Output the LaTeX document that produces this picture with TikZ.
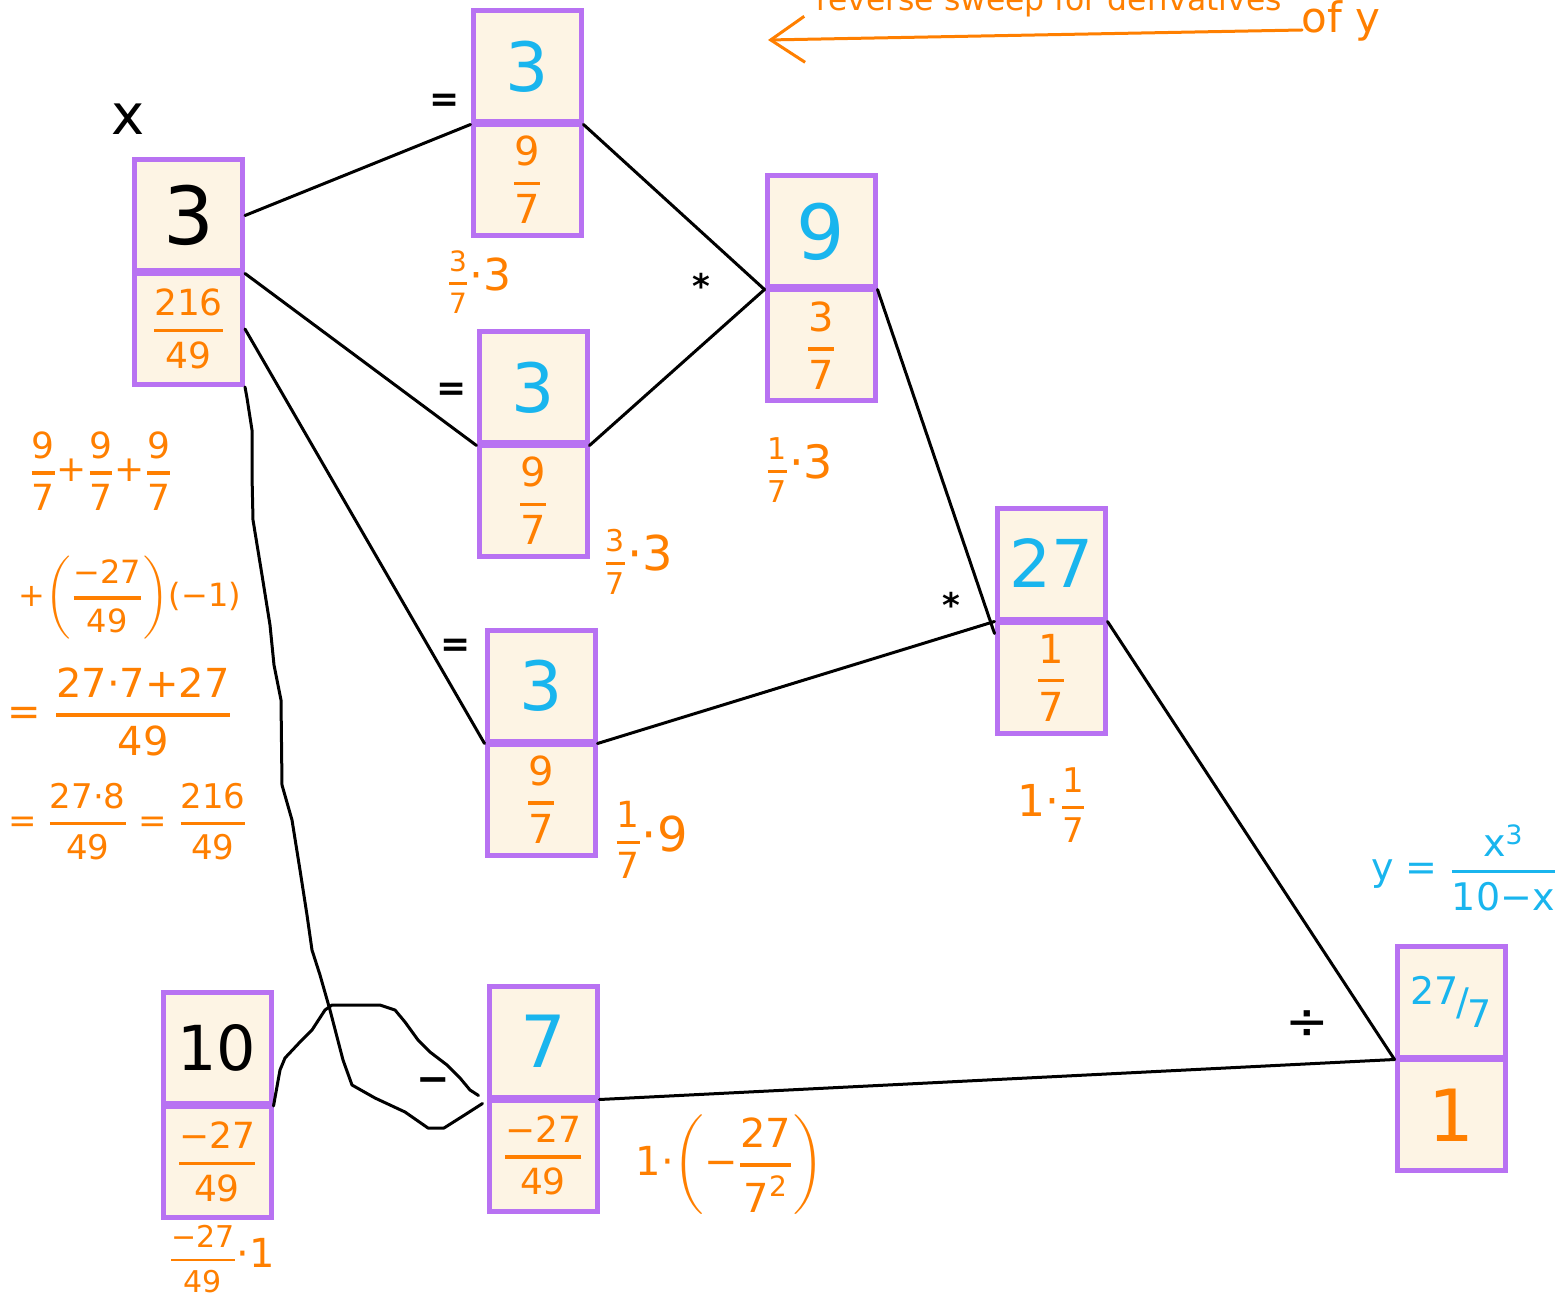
\documentclass[tikz,border=0pt]{standalone}
\usepackage{fontspec}
\usepackage{amsmath}
\setmainfont{DejaVu Sans}
\usetikzlibrary{arrows.meta}
\definecolor{boxpurple}{HTML}{B872F2}
\definecolor{boxfill}{HTML}{FDF4E4}
\definecolor{inkorange}{HTML}{FF7F00}
\definecolor{inksky}{HTML}{19B5EE}
\newcommand\myfs[1]{\fontsize{#1}{#1}\selectfont}
\newcommand\fr[3][1.6pt]{\ensuremath{\genfrac{}{}{#1}{0}{\text{#2}}{\text{#3}}}}
\begin{document}
\begin{tikzpicture}[x=0.5pt,y=-0.5pt,
  cell/.style={draw=boxpurple, line width=2.5pt, fill=boxfill, minimum width=54pt, minimum height=55.5pt, inner sep=0pt},
  wire/.style={line width=1.5pt, black, line cap=round, line join=round},
  ink/.style={text=inkorange, inner sep=0pt},
  sky/.style={text=inksky, inner sep=0pt},
  blk/.style={text=black, inner sep=0pt}]
\useasboundingbox (0,0) rectangle (1567,1304);

% boxes
\node[cell, blk, font=\myfs{40}] (x-v) at (188.5,215.5) {3};
\node[cell, ink, font=\myfs{18}] (x-d) at (188.5,329) {\fr{216}{49}};
\node[cell, sky, font=\myfs{34}] (t-v) at (527,66.5) {3};
\node[cell, ink, font=\myfs{20}] (t-d) at (527,180) {\fr{9}{7}};
\node[cell, sky, font=\myfs{34}] (m-v) at (533,387.5) {3};
\node[cell, ink, font=\myfs{20}] (m-d) at (533,501) {\fr{9}{7}};
\node[cell, sky, font=\myfs{34}] (l-v) at (541,685.5) {3};
\node[cell, ink, font=\myfs{20}] (l-d) at (541,799.5) {\fr{9}{7}};
\node[cell, sky, font=\myfs{38}] (n-v) at (821,231.5) {9};
\node[cell, ink, font=\myfs{20}] (n-d) at (821,345.5) {\fr{3}{7}};
\node[cell, sky, font=\myfs{33}] (s-v) at (1051,563.5) {27};
\node[cell, ink, font=\myfs{20}] (s-d) at (1051,677.5) {\fr{1}{7}};
\node[cell, sky, font=\myfs{19}] (f-v) at (1451,1001.5) {\raisebox{.3em}{27}\kern-.05em/\kern-.05em\raisebox{-.3em}{7}};
\node[cell, ink, font=\myfs{36}] (f-d) at (1451,1115) {1};
\node[cell, blk, font=\myfs{31}] (te-v) at (217,1048) {10};
\node[cell, ink, font=\myfs{18}] (te-d) at (217,1162) {\fr{−27}{49}};
\node[cell, sky, font=\myfs{36}] (se-v) at (543,1041.5) {7};
\node[cell, ink, font=\myfs{18}] (se-d) at (543,1155.5) {\fr{−27}{49}};

% connectors
\draw[wire] (x-v.east) -- (t-v.south west);
\draw[wire] (x-v.south east) -- (m-v.south west);
\draw[wire] (x-d.east) -- (l-v.south west);
\draw[wire] (t-v.south east) -- (n-v.south west);
\draw[wire] (m-v.south east) -- (n-v.south west);
\draw[wire] (n-v.south east) -- ([yshift=-6pt]s-v.south west);
\draw[wire] (l-v.south east) -- (s-v.south west);
\draw[wire] (s-v.south east) -- (f-v.south west);
\draw[wire] (se-v.south east) -- (f-v.south west);
\draw[wire] (x-d.south east) -- (247,398) -- (252,430) -- (252,475) -- (253,520) -- (262,575) -- (270,625) -- (274,665) -- (281,700) -- (282,785) -- (292,820) -- (300,870) -- (307,915) -- (312,950) -- (320,975) -- (330,1010) -- (343,1060) -- (352,1085) -- (375,1098) -- (405,1112) -- (428,1128) -- (444,1128) -- (463,1116) -- ([shift={(-2pt,-2pt)}]se-v.south west);
\draw[wire] (te-v.south east) -- (280,1070) -- (285,1058) -- (300,1042) -- (312,1030) -- (325,1010) -- (332,1005) -- (380,1005) -- (395,1010) -- (405,1022) -- (418,1040) -- (430,1052) -- (447,1065) -- (460,1078) -- (470,1090) -- ([shift={(-4pt,2pt)}]se-v.south west);

% operator labels
\node[blk, font=\myfs{28}] (lx) at (128,119) {x};
\node[blk, font=\bfseries\myfs{18}] (eq1) at (445,103) {=};
\node[blk, font=\bfseries\myfs{18}] (eq2) at (452,392) {=};
\node[blk, font=\bfseries\myfs{18}] (eq3) at (456,648) {=};
\node[blk, font=\bfseries\myfs{17}] (st1) at (701,286) {*};
\node[blk, font=\bfseries\myfs{17}] (st2) at (951,605) {*};
\node[blk, font=\bfseries\myfs{20}] (mn) at (433,1085) {−};
\node[blk, font=\myfs{26}] (dv) at (1307,1025) {÷};

% orange annotations
\node[ink] (a1) at (479,282) {{\myfs{14}\fr[1.3pt]{3}{7}}{\myfs{22}·3}};
\node[ink] (a2) at (638,562) {{\myfs{15}\fr[1.3pt]{3}{7}}{\myfs{24}·3}};
\node[ink] (a3) at (651,840) {{\myfs{18}\fr[1.4pt]{1}{7}}{\myfs{24}·9}};
\node[ink] (a4) at (799,470) {{\myfs{15}\fr[1.3pt]{1}{7}}{\myfs{23}·3}};
\node[ink] (a5) at (1052,805) {{\myfs{22}1·}{\myfs{17}\fr[1.4pt]{1}{7}}};
\node[ink] (a6) at (222,1259) {{\myfs{15}\fr[1.4pt]{−27}{49}}{\myfs{20}·1}};
\node[ink, font=\myfs{20}] (a7) at (730,1165) {1·$\left(\text{−}\fr{27}{7\textsuperscript{2}}\right)$};

\node[ink, font=\myfs{18}] (e1) at (101,471) {\fr{9}{7}+\fr{9}{7}+\fr{9}{7}};
\node[ink, font=\myfs{16}] (e2) at (130,598) {+$\left(\fr{−27}{49}\right)$(−1)};
\node[ink, font=\myfs{20}] (e3) at (120,712) {= \fr{27·7+27}{49}};
\node[ink, font=\myfs{17}] (e4) at (128,822) {= \fr{27·8}{49} = \fr{216}{49}};

\node[sky, font=\myfs{19}] (yeq) at (1464,868) {y = \fr{x\textsuperscript{3}}{10−x}};

% title and arrow
\node[ink, font=\myfs{15.7}, anchor=base] (title) at (1049,11) {reverse sweep for derivatives};
\node[ink, font=\myfs{21}, anchor=base] (ofy) at (1341,33) {of y};
\coordinate (arrS) at (1302,30);
\coordinate (arrE) at (768,40);
\draw[line width=1.5pt, inkorange, line cap=round, -{Straight Barb[length=17pt,width=23pt,line width=1.5pt]}] (arrS) -- (arrE);
\end{tikzpicture}
\end{document}
